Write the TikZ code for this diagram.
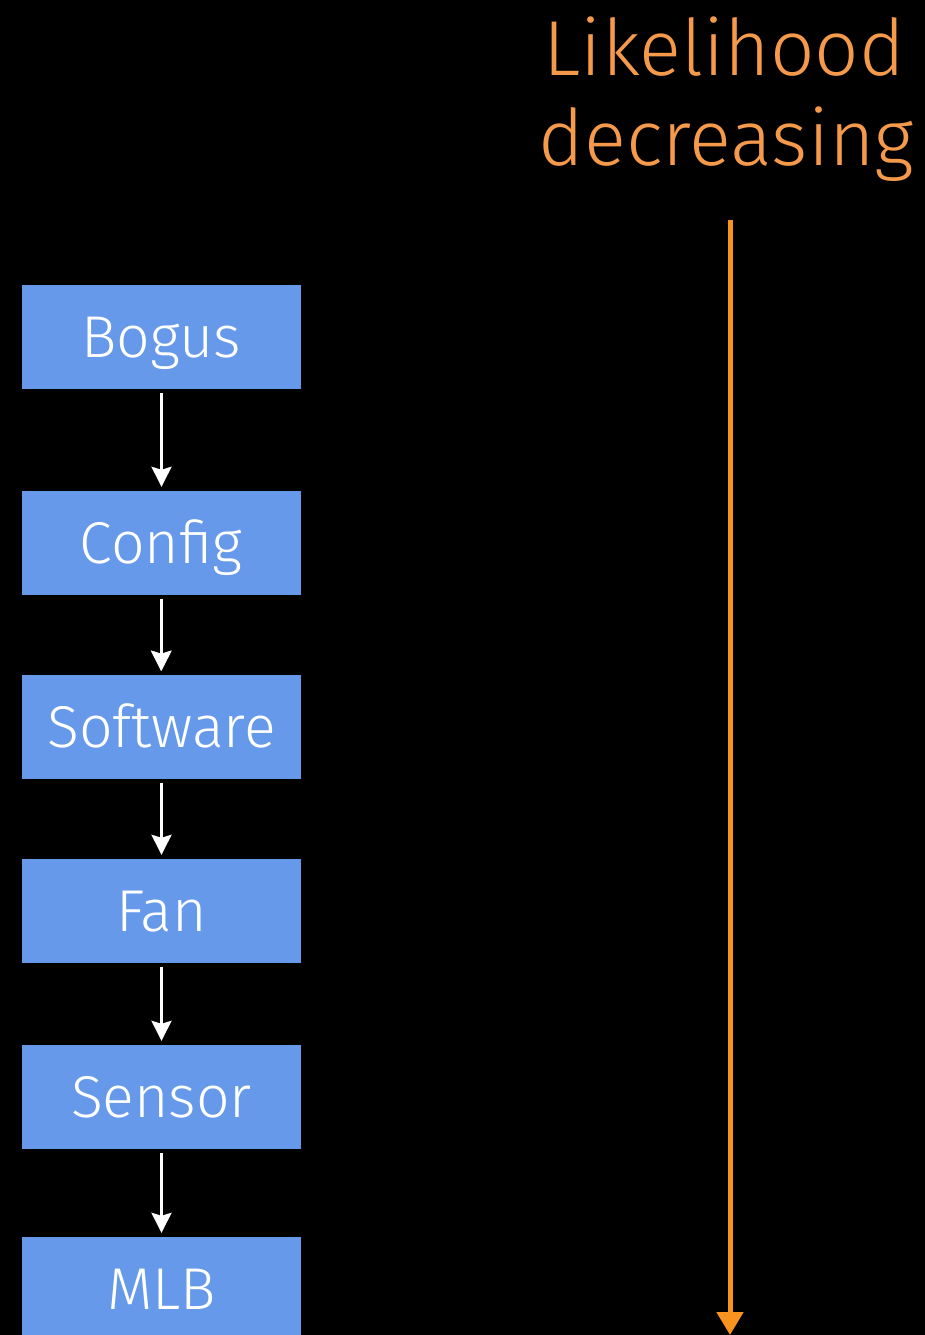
\documentclass[tikz,border=0pt]{standalone}
\usepackage{fontspec}
\setmainfont{Fira Sans}[UprightFont=* Light]
\usetikzlibrary{arrows.meta}
\definecolor{boxblue}{HTML}{6699E9}
\definecolor{labelorange}{HTML}{F5994A}
\definecolor{arroworange}{HTML}{F7931E}
\tikzset{
  stagebox/.style={fill=boxblue, draw=none, minimum width=279pt, minimum height=104pt,
    inner sep=0pt, text=white, text height=41pt, text depth=0pt,
    font=\fontsize{59}{59}\selectfont},
  flowarrow/.style={draw=white, line width=3pt, shorten <=4pt, shorten >=4pt,
    -{Stealth[length=20pt,width=20pt,inset=3pt]}},
  heading/.style={text=labelorange, font=\fontsize{78}{78}\selectfont, inner sep=0pt, anchor=base east},
}
\begin{document}
\begin{tikzpicture}[x=1pt,y=-1pt]
  \useasboundingbox (0,0) rectangle (924,1335);
  \fill[black] (-5,-5) rectangle (930,1340);

  % stages, top to bottom
  \node[stagebox] (bogus)    at (161.5,337) {Bogus};
  \node[stagebox] (config)   at (161,543)   {Config};
  \node[stagebox] (software) at (161.5,727) {Software};
  \node[stagebox] (fan)      at (161.5,911) {Fan};
  \node[stagebox] (sensor)   at (161.5,1097) {Sensor};
  \node[stagebox] (mlb)      at (161.5,1289) {MLB};

  \draw[flowarrow] (bogus.south)    -- (bogus.south |- config.north);
  \draw[flowarrow] (config.south)   -- (config.south |- software.north);
  \draw[flowarrow] (software.south |- config.south) -- (software.north);
  \draw[flowarrow] (software.south) -- (fan.north);
  \draw[flowarrow] (fan.south)      -- (sensor.north);
  \draw[flowarrow] (sensor.south)   -- (mlb.north);

  % heading and trend arrow
  \node[heading] (head1) at (905,76)  {Likelihood};
  \node[heading] (head2) at (914,165) {decreasing};
  \coordinate (trendtop) at (730,220);
  \coordinate (trendend) at (730,1335);
  \draw[arroworange, line width=5pt, -{Triangle[length=23pt,width=26pt]}] (trendtop) -- (trendend);
\end{tikzpicture}
\end{document}
